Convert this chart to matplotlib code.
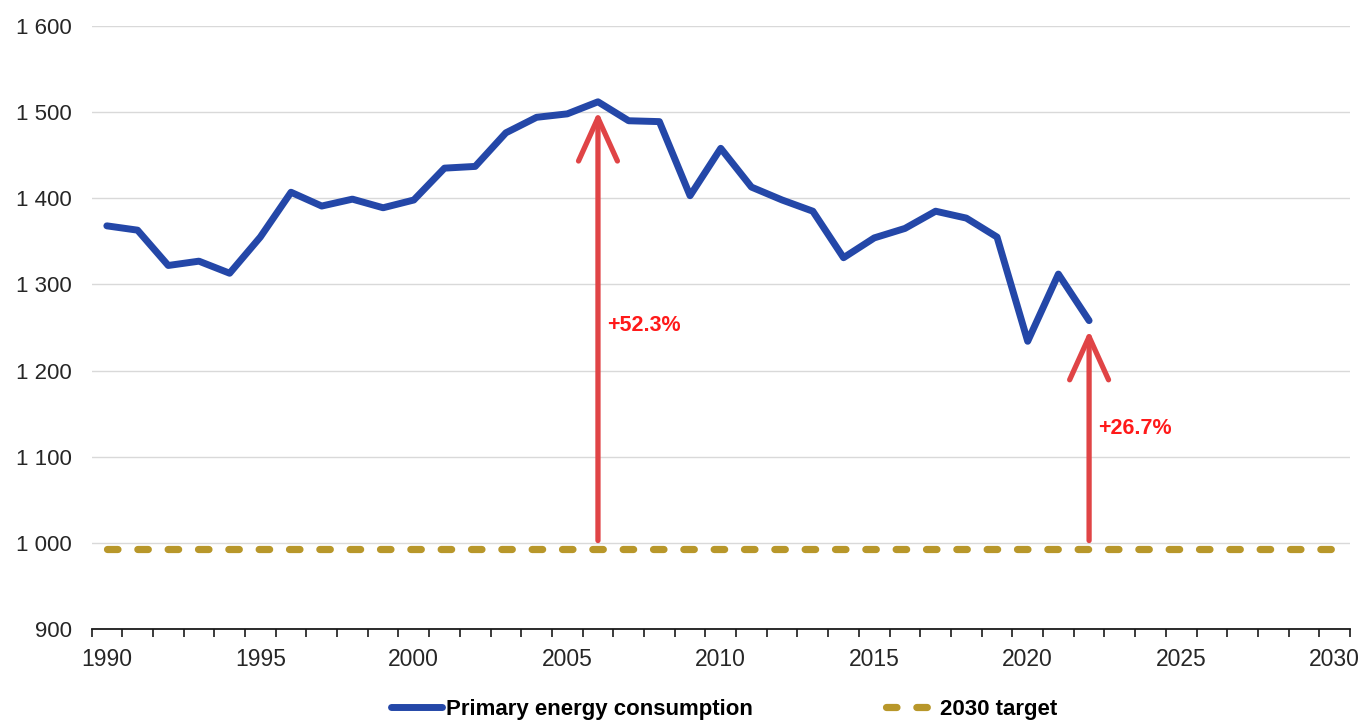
import numpy as np
import matplotlib
matplotlib.use("Agg")
import matplotlib.pyplot as plt
from matplotlib.patches import FancyArrowPatch, ArrowStyle
from matplotlib.ticker import FuncFormatter, MultipleLocator

# -------- Data --------
years = list(range(1990, 2023))
consumption = [1368, 1363, 1322, 1327, 1313, 1355, 1407, 1391, 1399, 1389,
               1398, 1435, 1437, 1476, 1494, 1498, 1512, 1490, 1489, 1403,
               1458, 1413, 1398, 1385, 1331, 1354, 1365, 1385, 1377, 1355,
               1234, 1312, 1258]
target_years = [1990, 2030]
target_value = 993

arrow_years = [2006, 2022]
arrow_labels = ["+52.3%", "+26.7%"]
label_y = [1252, 1133]

series_names = ["Primary energy consumption", "2030 target"]

# -------- Style --------
BLUE = "#2447a8"
GOLD = "#b8972a"
ARROW_RED = "#e04446"
TEXT_RED = "#ff1a1a"
plt.rcParams["font.family"] = ["Liberation Sans", "DejaVu Sans"]

fig = plt.figure(figsize=(13.6, 7.21), dpi=100)
ax = fig.add_axes([91.5 / 1360, 92 / 721, (1350 - 91.5) / 1360, (629 - 26) / 721])

ax.plot(years, consumption, color=BLUE, lw=5.0, solid_joinstyle="round",
        solid_capstyle="round", label=series_names[0], zorder=3)
ax.plot(target_years, [target_value] * 2, color=GOLD, lw=5.2,
        dashes=(1.45, 2.75), dash_capstyle="round", label=series_names[1], zorder=3)

# arrows from the target up to the consumption value
for yr, lab, ly in zip(arrow_years, arrow_labels, label_y):
    val = consumption[years.index(yr)]
    arr = FancyArrowPatch((yr, target_value), (yr, val),
                          arrowstyle=ArrowStyle("->", head_length=31, head_width=14),
                          mutation_scale=1, lw=3.8, color=ARROW_RED,
                          shrinkA=6, shrinkB=7, capstyle="round", joinstyle="round",
                          zorder=4)
    ax.add_patch(arr)
    ax.text(yr + 0.3, ly, lab, color=TEXT_RED, fontsize=15.5, fontweight="bold",
            ha="left", va="center", zorder=5)

# -------- Axes --------
ax.set_xlim(1989.5, 2030.5)
ax.set_ylim(900, 1600)
ax.yaxis.set_major_locator(MultipleLocator(100))
ax.yaxis.set_major_formatter(FuncFormatter(lambda v, p: f"{int(v):,}".replace(",", " ")))
ax.set_xticks(range(1990, 2031, 5))
ax.set_xticks(np.arange(1989.5, 2031, 1), minor=True)

ax.grid(axis="y", color="#d9d9d9", lw=1.0, zorder=0)
ax.set_axisbelow(True)
for s in ["left", "right", "top"]:
    ax.spines[s].set_visible(False)
ax.spines["bottom"].set_color("#1a1a1a")
ax.spines["bottom"].set_linewidth(1.3)

ax.tick_params(axis="y", length=0, pad=14, labelsize=16, labelcolor="#262626")
ax.tick_params(axis="x", which="major", length=0, pad=14, labelsize=16.5, labelcolor="#262626")
ax.tick_params(axis="x", which="minor", length=6, width=1.2, color="#1a1a1a", direction="out")

# -------- Legend --------
fig.legend(loc="center", bbox_to_anchor=(724.5 / 1360, 12 / 721), ncol=2,
           frameon=False, handlelength=2.3, handletextpad=0.15, columnspacing=6.0,
           borderpad=0, prop={"weight": "bold", "size": 16})

fig.savefig("out.png", dpi=100)
